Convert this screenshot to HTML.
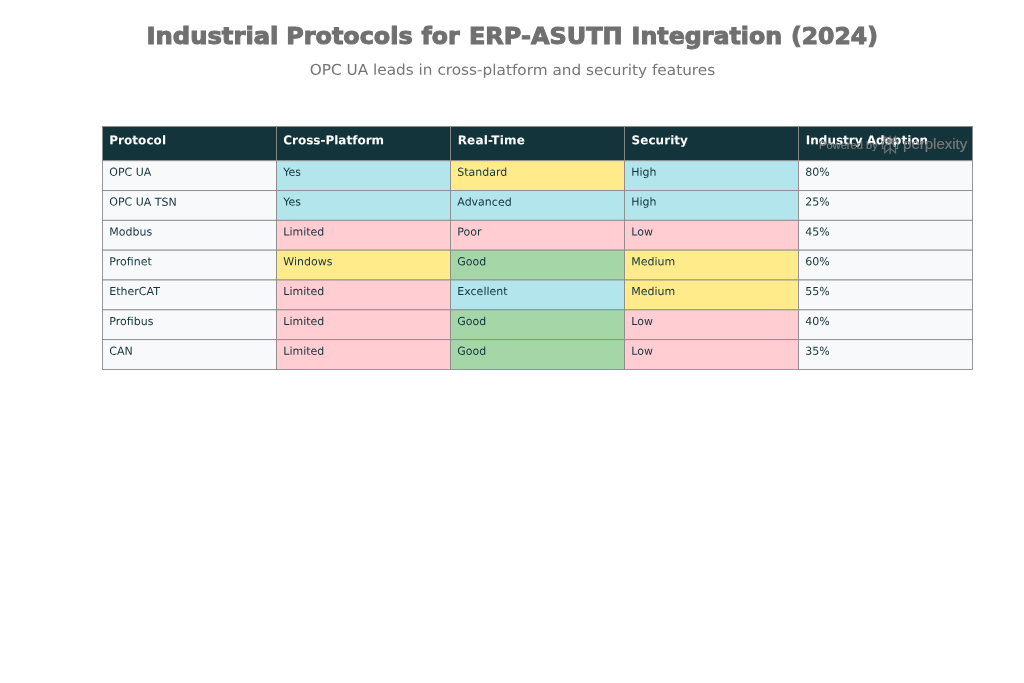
<!DOCTYPE html>
<html><head><meta charset="utf-8"><title>Industrial Protocols</title>
<style>
html,body{margin:0;padding:0;background:#fff;}
body{width:1024px;height:683px;overflow:hidden;position:relative;font-family:"DejaVu Sans","Liberation Sans",sans-serif;}
svg{position:absolute;left:0;top:0;}
text{font-family:"DejaVu Sans","Liberation Sans",sans-serif;}
.t{font-size:23.6px;font-weight:bold;fill:#707070;stroke:#707070;stroke-width:1.05px;}
.s{font-size:14.7px;fill:#757575;}
.h{font-size:12px;font-weight:bold;fill:#fff;}
.c{font-size:11px;fill:#13343b;}
.w{font-family:"Liberation Sans",sans-serif;}
</style></head><body>
<svg width="1024" height="683" viewBox="0 0 1024 683">
<rect width="1024" height="683" fill="#fff"/>
<text class="t" y="43.6"><tspan x="146.50" textLength="131.92" lengthAdjust="spacingAndGlyphs">Industrial</tspan> <tspan x="286.23" textLength="126.41" lengthAdjust="spacingAndGlyphs">Protocols</tspan> <tspan x="421.57" textLength="38.09" lengthAdjust="spacingAndGlyphs">for</tspan> <tspan x="468.98" textLength="153.65" lengthAdjust="spacingAndGlyphs">ERP-ASUTП</tspan> <tspan x="631.64" textLength="150.50" lengthAdjust="spacingAndGlyphs">Integration</tspan> <tspan x="790.96" textLength="86.94" lengthAdjust="spacingAndGlyphs">(2024)</tspan></text>
<text class="s" x="512.45" y="74.9" transform="rotate(0.03 512.45 74.9)" text-anchor="middle" textLength="405.5" lengthAdjust="spacingAndGlyphs">OPC UA leads in cross-platform and security features</text>

<rect x="102.50" y="126.50" width="174.0" height="34.2" fill="#13343b" stroke="#8c8c8c" stroke-width="0.9"/>
<rect x="276.50" y="126.50" width="174.0" height="34.2" fill="#13343b" stroke="#8c8c8c" stroke-width="0.9"/>
<rect x="450.50" y="126.50" width="174.0" height="34.2" fill="#13343b" stroke="#8c8c8c" stroke-width="0.9"/>
<rect x="624.50" y="126.50" width="174.0" height="34.2" fill="#13343b" stroke="#8c8c8c" stroke-width="0.9"/>
<rect x="798.50" y="126.50" width="174.0" height="34.2" fill="#13343b" stroke="#8c8c8c" stroke-width="0.9"/>
<rect x="102.50" y="160.70" width="174.0" height="29.825" fill="#F8F9FA" stroke="#8c8c8c" stroke-width="0.9"/>
<rect x="276.50" y="160.70" width="174.0" height="29.825" fill="#B3E5EC" stroke="#8c8c8c" stroke-width="0.9"/>
<rect x="450.50" y="160.70" width="174.0" height="29.825" fill="#FFEB8A" stroke="#8c8c8c" stroke-width="0.9"/>
<rect x="624.50" y="160.70" width="174.0" height="29.825" fill="#B3E5EC" stroke="#8c8c8c" stroke-width="0.9"/>
<rect x="798.50" y="160.70" width="174.0" height="29.825" fill="#F8F9FA" stroke="#8c8c8c" stroke-width="0.9"/>
<rect x="102.50" y="190.52" width="174.0" height="29.825" fill="#F8F9FA" stroke="#8c8c8c" stroke-width="0.9"/>
<rect x="276.50" y="190.52" width="174.0" height="29.825" fill="#B3E5EC" stroke="#8c8c8c" stroke-width="0.9"/>
<rect x="450.50" y="190.52" width="174.0" height="29.825" fill="#B3E5EC" stroke="#8c8c8c" stroke-width="0.9"/>
<rect x="624.50" y="190.52" width="174.0" height="29.825" fill="#B3E5EC" stroke="#8c8c8c" stroke-width="0.9"/>
<rect x="798.50" y="190.52" width="174.0" height="29.825" fill="#F8F9FA" stroke="#8c8c8c" stroke-width="0.9"/>
<rect x="102.50" y="220.35" width="174.0" height="29.825" fill="#F8F9FA" stroke="#8c8c8c" stroke-width="0.9"/>
<rect x="276.50" y="220.35" width="174.0" height="29.825" fill="#FFCDD2" stroke="#8c8c8c" stroke-width="0.9"/>
<rect x="450.50" y="220.35" width="174.0" height="29.825" fill="#FFCDD2" stroke="#8c8c8c" stroke-width="0.9"/>
<rect x="624.50" y="220.35" width="174.0" height="29.825" fill="#FFCDD2" stroke="#8c8c8c" stroke-width="0.9"/>
<rect x="798.50" y="220.35" width="174.0" height="29.825" fill="#F8F9FA" stroke="#8c8c8c" stroke-width="0.9"/>
<rect x="102.50" y="250.17" width="174.0" height="29.825" fill="#F8F9FA" stroke="#8c8c8c" stroke-width="0.9"/>
<rect x="276.50" y="250.17" width="174.0" height="29.825" fill="#FFEB8A" stroke="#8c8c8c" stroke-width="0.9"/>
<rect x="450.50" y="250.17" width="174.0" height="29.825" fill="#A5D6A7" stroke="#8c8c8c" stroke-width="0.9"/>
<rect x="624.50" y="250.17" width="174.0" height="29.825" fill="#FFEB8A" stroke="#8c8c8c" stroke-width="0.9"/>
<rect x="798.50" y="250.17" width="174.0" height="29.825" fill="#F8F9FA" stroke="#8c8c8c" stroke-width="0.9"/>
<rect x="102.50" y="280.00" width="174.0" height="29.825" fill="#F8F9FA" stroke="#8c8c8c" stroke-width="0.9"/>
<rect x="276.50" y="280.00" width="174.0" height="29.825" fill="#FFCDD2" stroke="#8c8c8c" stroke-width="0.9"/>
<rect x="450.50" y="280.00" width="174.0" height="29.825" fill="#B3E5EC" stroke="#8c8c8c" stroke-width="0.9"/>
<rect x="624.50" y="280.00" width="174.0" height="29.825" fill="#FFEB8A" stroke="#8c8c8c" stroke-width="0.9"/>
<rect x="798.50" y="280.00" width="174.0" height="29.825" fill="#F8F9FA" stroke="#8c8c8c" stroke-width="0.9"/>
<rect x="102.50" y="309.82" width="174.0" height="29.825" fill="#F8F9FA" stroke="#8c8c8c" stroke-width="0.9"/>
<rect x="276.50" y="309.82" width="174.0" height="29.825" fill="#FFCDD2" stroke="#8c8c8c" stroke-width="0.9"/>
<rect x="450.50" y="309.82" width="174.0" height="29.825" fill="#A5D6A7" stroke="#8c8c8c" stroke-width="0.9"/>
<rect x="624.50" y="309.82" width="174.0" height="29.825" fill="#FFCDD2" stroke="#8c8c8c" stroke-width="0.9"/>
<rect x="798.50" y="309.82" width="174.0" height="29.825" fill="#F8F9FA" stroke="#8c8c8c" stroke-width="0.9"/>
<rect x="102.50" y="339.65" width="174.0" height="29.825" fill="#F8F9FA" stroke="#8c8c8c" stroke-width="0.9"/>
<rect x="276.50" y="339.65" width="174.0" height="29.825" fill="#FFCDD2" stroke="#8c8c8c" stroke-width="0.9"/>
<rect x="450.50" y="339.65" width="174.0" height="29.825" fill="#A5D6A7" stroke="#8c8c8c" stroke-width="0.9"/>
<rect x="624.50" y="339.65" width="174.0" height="29.825" fill="#FFCDD2" stroke="#8c8c8c" stroke-width="0.9"/>
<rect x="798.50" y="339.65" width="174.0" height="29.825" fill="#F8F9FA" stroke="#8c8c8c" stroke-width="0.9"/>
<text class="h" x="109.20" y="144.25" transform="rotate(0.03 109.20 144.25)" letter-spacing="0.057">Protocol</text>
<text class="h" x="283.20" y="144.25" transform="rotate(0.03 283.20 144.25)" letter-spacing="0.000">Cross-Platform</text>
<text class="h" x="457.67" y="144.25" transform="rotate(0.03 457.67 144.25)" letter-spacing="0.175">Real-Time</text>
<text class="h" x="631.55" y="144.25" transform="rotate(0.03 631.55 144.25)" letter-spacing="0.050">Security</text>
<text class="h" x="805.79" y="144.25" transform="rotate(0.03 805.79 144.25)" letter-spacing="0.000">Industry Adoption</text>
<text class="c" x="109.30" y="175.80" transform="rotate(0.03 109.30 175.80)">OPC UA</text>
<text class="c" x="283.30" y="175.80" transform="rotate(0.03 283.30 175.80)">Yes</text>
<text class="c" x="457.30" y="175.80" transform="rotate(0.03 457.30 175.80)">Standard</text>
<text class="c" x="631.30" y="175.80" transform="rotate(0.03 631.30 175.80)">High</text>
<text class="c" x="805.30" y="175.80" transform="rotate(0.03 805.30 175.80)">80%</text>
<text class="c" x="109.30" y="205.62" transform="rotate(0.03 109.30 205.62)">OPC UA TSN</text>
<text class="c" x="283.30" y="205.62" transform="rotate(0.03 283.30 205.62)">Yes</text>
<text class="c" x="457.30" y="205.62" transform="rotate(0.03 457.30 205.62)">Advanced</text>
<text class="c" x="631.30" y="205.62" transform="rotate(0.03 631.30 205.62)">High</text>
<text class="c" x="805.30" y="205.62" transform="rotate(0.03 805.30 205.62)">25%</text>
<text class="c" x="109.30" y="235.45" transform="rotate(0.03 109.30 235.45)">Modbus</text>
<text class="c" x="283.30" y="235.45" transform="rotate(0.03 283.30 235.45)">Limited</text>
<text class="c" x="457.30" y="235.45" transform="rotate(0.03 457.30 235.45)">Poor</text>
<text class="c" x="631.30" y="235.45" transform="rotate(0.03 631.30 235.45)">Low</text>
<text class="c" x="805.30" y="235.45" transform="rotate(0.03 805.30 235.45)">45%</text>
<text class="c" x="109.30" y="265.27" transform="rotate(0.03 109.30 265.27)">Profinet</text>
<text class="c" x="283.30" y="265.27" transform="rotate(0.03 283.30 265.27)">Windows</text>
<text class="c" x="457.30" y="265.27" transform="rotate(0.03 457.30 265.27)">Good</text>
<text class="c" x="631.30" y="265.27" transform="rotate(0.03 631.30 265.27)">Medium</text>
<text class="c" x="805.30" y="265.27" transform="rotate(0.03 805.30 265.27)">60%</text>
<text class="c" x="109.30" y="295.10" transform="rotate(0.03 109.30 295.10)">EtherCAT</text>
<text class="c" x="283.30" y="295.10" transform="rotate(0.03 283.30 295.10)">Limited</text>
<text class="c" x="457.30" y="295.10" transform="rotate(0.03 457.30 295.10)">Excellent</text>
<text class="c" x="631.30" y="295.10" transform="rotate(0.03 631.30 295.10)">Medium</text>
<text class="c" x="805.30" y="295.10" transform="rotate(0.03 805.30 295.10)">55%</text>
<text class="c" x="109.30" y="324.93" transform="rotate(0.03 109.30 324.93)">Profibus</text>
<text class="c" x="283.30" y="324.93" transform="rotate(0.03 283.30 324.93)">Limited</text>
<text class="c" x="457.30" y="324.93" transform="rotate(0.03 457.30 324.93)">Good</text>
<text class="c" x="631.30" y="324.93" transform="rotate(0.03 631.30 324.93)">Low</text>
<text class="c" x="805.30" y="324.93" transform="rotate(0.03 805.30 324.93)">40%</text>
<text class="c" x="109.30" y="354.75" transform="rotate(0.03 109.30 354.75)">CAN</text>
<text class="c" x="283.30" y="354.75" transform="rotate(0.03 283.30 354.75)">Limited</text>
<text class="c" x="457.30" y="354.75" transform="rotate(0.03 457.30 354.75)">Good</text>
<text class="c" x="631.30" y="354.75" transform="rotate(0.03 631.30 354.75)">Low</text>
<text class="c" x="805.30" y="354.75" transform="rotate(0.03 805.30 354.75)">35%</text>
<g opacity="0.93" fill="#817e7e" stroke="#817e7e" stroke-width="0.22">
<text class="w" x="819" y="148.7" font-size="11" textLength="58.8" lengthAdjust="spacingAndGlyphs">Powered by</text>
<g transform="translate(880.98,135.5) scale(0.76)" stroke-width="0.4"><path d="M19.785 0v7.272H22.5V17.62h-2.935V24l-7.037-6.194v6.145h-1.091v-6.152L4.392 24v-6.465H1.5V7.188h2.884V0l7.053 6.494V.19h1.09v6.49L19.786 0zm-7.257 9.044v7.319l5.946 5.234V14.44l-5.946-5.397zm-1.099-.08l-5.946 5.398v7.235l5.946-5.234V8.965zm8.136 7.58h1.844V8.349H13.46l6.105 5.54v2.655zm-8.982-8.28H2.59v8.195h1.8v-2.576l6.192-5.62zM5.475 2.476v4.71h5.115l-5.115-4.71zm13.219 0l-5.115 4.71h5.115v-4.71z"/></g>
<text class="w" x="903.1" y="148.6" font-size="15">perplexity</text>
</g>
</svg></body></html>
